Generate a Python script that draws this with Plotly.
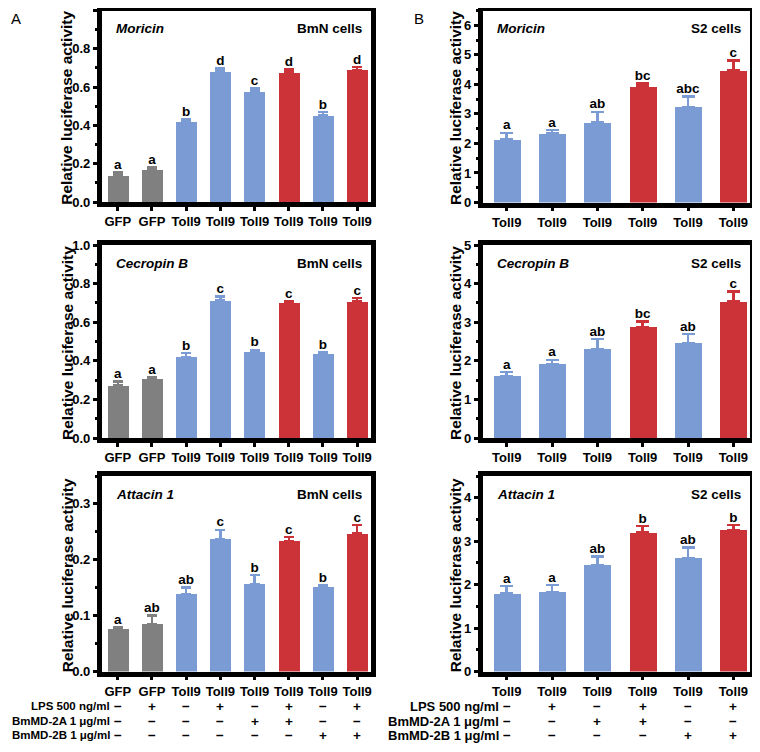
import plotly.graph_objects as go

FONT = "Liberation Sans, Arial, sans-serif"
GRAY, BLUE, RED = "#808080", "#7b9bd5", "#cc3338"

# categories and colour groups
bmn_labels = ["GFP", "GFP", "Toll9", "Toll9", "Toll9", "Toll9", "Toll9", "Toll9"]
bmn_groups = ["g", "g", "b", "b", "b", "r", "b", "r"]
s2_labels = ["Toll9", "Toll9", "Toll9", "Toll9", "Toll9", "Toll9"]
s2_groups = ["b", "b", "b", "r", "b", "r"]

# BmN cells
moricin_bmn = [0.14, 0.17, 0.42, 0.683, 0.576, 0.676, 0.452, 0.69]
moricin_bmn_err = [0.014, 0.01, 0.012, 0.013, 0.017, 0.015, 0.018, 0.015]
moricin_bmn_sig = ["a", "a", "b", "d", "c", "d", "b", "d"]

cecropin_bmn = [0.272, 0.305, 0.419, 0.712, 0.445, 0.70, 0.433, 0.707]
cecropin_bmn_err = [0.021, 0.011, 0.022, 0.021, 0.012, 0.009, 0.012, 0.019]
cecropin_bmn_sig = ["a", "a", "b", "c", "b", "c", "b", "c"]

attacin_bmn = [0.0755, 0.0845, 0.139, 0.2367, 0.1566, 0.233, 0.1506, 0.247]
attacin_bmn_err = [0.004, 0.016, 0.011, 0.017, 0.016, 0.008, 0.004, 0.015]
attacin_bmn_sig = ["a", "ab", "ab", "c", "b", "c", "b", "c"]

# S2 cells
moricin_s2 = [2.13, 2.33, 2.72, 3.92, 3.24, 4.48]
moricin_s2_err = [0.23, 0.12, 0.35, 0.11, 0.35, 0.32]
moricin_s2_sig = ["a", "a", "ab", "bc", "abc", "c"]

cecropin_s2 = [1.595, 1.905, 2.30, 2.88, 2.45, 3.53]
cecropin_s2_err = [0.11, 0.12, 0.26, 0.14, 0.24, 0.26]
cecropin_s2_sig = ["a", "a", "ab", "bc", "ab", "c"]

attacin_s2 = [1.795, 1.83, 2.445, 3.195, 2.615, 3.25]
attacin_s2_err = [0.175, 0.16, 0.205, 0.155, 0.24, 0.12]
attacin_s2_sig = ["a", "a", "ab", "b", "ab", "b"]

# treatment table
row_names = ["LPS 500 ng/ml", "BmMD-2A 1 μg/ml", "BmMD-2B 1 μg/ml"]
bmn_lps = ["-", "+", "-", "+", "-", "+", "-", "+"]
bmn_2a = ["-", "-", "-", "-", "+", "+", "-", "-"]
bmn_2b = ["-", "-", "-", "-", "-", "-", "+", "+"]
s2_lps = ["-", "+", "-", "+", "-", "+"]
s2_2a = ["-", "-", "+", "+", "-", "-"]
s2_2b = ["-", "-", "-", "-", "+", "+"]

colors = {"g": GRAY, "b": BLUE, "r": RED}

# the page body has an 8px margin, so the figure is a bit smaller than the window
OFF = 8
FW, FH = 760 - 2 * OFF, 752 - 2 * OFF


def xp(px):
    return (px - OFF) / FW


def yp(py):
    return 1 - (py - OFF) / FH


# panel frames in window pixels: (left, right, top, bottom)
LEFT_X = (101.7, 370.5)
RIGHT_X = (482.5, 749.5)
panels = [
    dict(vals=moricin_bmn, err=moricin_bmn_err, sig=moricin_bmn_sig, labels=bmn_labels, groups=bmn_groups,
         gene="Moricin", cell="BmN cells", px=LEFT_X + (10.5, 202), yr=[0, 1.0], dt=0.2, mdt=0.1, fmt=".1f"),
    dict(vals=moricin_s2, err=moricin_s2_err, sig=moricin_s2_sig, labels=s2_labels, groups=s2_groups,
         gene="Moricin", cell="S2 cells", px=RIGHT_X + (10.5, 202.5), yr=[0, 6.5], dt=1, mdt=0.5, fmt="d"),
    dict(vals=cecropin_bmn, err=cecropin_bmn_err, sig=cecropin_bmn_sig, labels=bmn_labels, groups=bmn_groups,
         gene="Cecropin B", cell="BmN cells", px=LEFT_X + (245, 438), yr=[0, 1.0], dt=0.2, mdt=0.1, fmt=".1f"),
    dict(vals=cecropin_s2, err=cecropin_s2_err, sig=cecropin_s2_sig, labels=s2_labels, groups=s2_groups,
         gene="Cecropin B", cell="S2 cells", px=RIGHT_X + (245, 438), yr=[0, 5], dt=1, mdt=0.5, fmt="d"),
    dict(vals=attacin_bmn, err=attacin_bmn_err, sig=attacin_bmn_sig, labels=bmn_labels, groups=bmn_groups,
         gene="Attacin 1", cell="BmN cells", px=LEFT_X + (476, 671.5), yr=[0, 0.35], dt=0.1, mdt=0.05, fmt=".1f"),
    dict(vals=attacin_s2, err=attacin_s2_err, sig=attacin_s2_sig, labels=s2_labels, groups=s2_groups,
         gene="Attacin 1", cell="S2 cells", px=RIGHT_X + (476, 671.5), yr=[0, 4.5], dt=1, mdt=0.5, fmt="d"),
]

fig = go.Figure()
annotations = []

for i, p in enumerate(panels, start=1):
    sfx = "" if i == 1 else str(i)
    xa, ya = f"x{sfx}", f"y{sfx}"
    n = len(p["vals"])
    bw = 0.61 if n == 8 else 0.59
    capw = 5 if n == 8 else 6.5
    xr = [-0.47, 7.39] if n == 8 else [-0.534, 5.357]
    for g in ["g", "b", "r"]:
        idx = [k for k in range(n) if p["groups"][k] == g]
        if not idx:
            continue
        fig.add_trace(go.Bar(
            x=idx, y=[p["vals"][k] for k in idx], width=bw, xaxis=xa, yaxis=ya,
            marker=dict(color=colors[g], line=dict(width=0)),
            error_y=dict(type="data", symmetric=False, array=[p["err"][k] for k in idx],
                         arrayminus=[0] * len(idx), color=colors[g], thickness=2.5, width=capw),
            showlegend=False, hoverinfo="skip",
        ))
    fig.add_trace(go.Scatter(
        x=list(range(n)), y=[v + e for v, e in zip(p["vals"], p["err"])], text=p["sig"],
        mode="text", textposition="top center", xaxis=xa, yaxis=ya,
        textfont=dict(family=FONT, size=13.5, color="black", weight="bold"),
        showlegend=False, hoverinfo="skip",
    ))

    x0, x1, yt, yb = p["px"]
    axis_common = dict(showline=True, linecolor="black", linewidth=4.5, mirror=True,
                       showgrid=False, zeroline=False, ticks="outside", tickcolor="black",
                       tickwidth=2.5, ticklen=4, automargin=False,
                       tickfont=dict(family=FONT, size=13, color="black", weight="bold"))
    fig.update_layout(**{
        f"xaxis{sfx}": dict(axis_common, domain=[xp(x0), xp(x1)], anchor=ya,
                            range=xr, tickvals=list(range(n)), ticktext=p["labels"]),
        f"yaxis{sfx}": dict(axis_common, domain=[yp(yb), yp(yt)], anchor=xa,
                            range=p["yr"], dtick=p["dt"], tick0=0, tickformat=p["fmt"],
                            minor=dict(ticks="outside", ticklen=2, tickwidth=2.5, dtick=p["mdt"],
                                       tickcolor="black", showgrid=False)),
    })
    # y axis title
    annotations.append(dict(xref="paper", yref="paper", x=xp(67 if n == 8 else 455), y=yp((yt + yb) / 2 + 1.5),
                            xanchor="center", yanchor="middle", textangle=-90, showarrow=False,
                            text="Relative luciferase activity",
                            font=dict(family=FONT, size=15.5, color="black", weight="bold")))
    annotations.append(dict(xref=f"{xa} domain", yref=f"{ya} domain", x=0.045, y=1, yshift=-18,
                            xanchor="left", yanchor="middle", showarrow=False, text=p["gene"],
                            font=dict(family=FONT, size=13.5, color="black", weight="bold", style="italic")))
    annotations.append(dict(xref=f"{xa} domain", yref=f"{ya} domain", x=0.975, y=1, yshift=-18,
                            xanchor="right", yanchor="middle", showarrow=False, text=p["cell"],
                            font=dict(family=FONT, size=13.5, color="black", weight="bold")))

# treatment table under the bottom panels
row_y = [706.3, 721, 735.3]
for xa, label_x, lsize, rows in [("x5", 112.5, 11.5, [bmn_lps, bmn_2a, bmn_2b]),
                                 ("x6", 501, 13, [s2_lps, s2_2a, s2_2b])]:
    for name, y, marks in zip(row_names, row_y, rows):
        annotations.append(dict(xref="paper", yref="paper", x=xp(label_x), y=yp(y), xanchor="right",
                                yanchor="middle", showarrow=False, text=name,
                                font=dict(family=FONT, size=lsize, color="black", weight="bold")))
        for k, m in enumerate(marks):
            annotations.append(dict(xref=xa, yref="paper", x=k, y=yp(y), xanchor="center",
                                    yanchor="middle", showarrow=False,
                                    text="+" if m == "+" else "\u2212",
                                    font=dict(family=FONT, size=13.5, color="black", weight="bold")))

for label, px in [("A", 15.5), ("B", 419)]:
    annotations.append(dict(xref="paper", yref="paper", x=xp(px), y=1, xanchor="center",
                            yanchor="top", showarrow=False, text=label,
                            font=dict(family=FONT, size=15, color="black")))

fig.update_layout(width=FW, height=FH, margin=dict(l=0, r=0, t=0, b=0),
                  plot_bgcolor="white", paper_bgcolor="white", bargap=0,
                  annotations=annotations, font=dict(family=FONT))

fig.write_html("out.html")
